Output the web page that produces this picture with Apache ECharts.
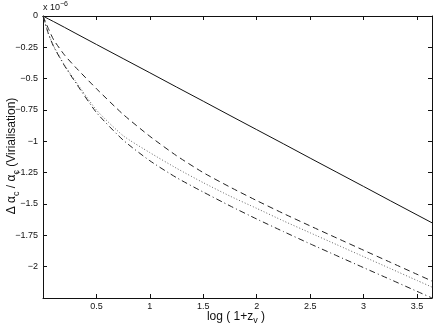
<!DOCTYPE html>
<html>
<head>
<meta charset="utf-8">
<script src="https://cdn.jsdelivr.net/npm/echarts@6/dist/echarts.min.js"></script>
<style>
  html, body { margin: 0; padding: 0; background: #fff; }
  #chart { width: 436px; height: 327px; }
</style>
</head>
<body>
<div id="chart"></div>
<script>
// log(1+z_v) sample points
var logZ = [0, 0.05, 0.1, 0.2, 0.3, 0.5, 0.75, 1, 1.25, 1.5, 1.75, 2, 2.25, 2.5, 2.75, 3, 3.25, 3.5, 3.64];

// delta alpha / alpha, units of 1e-6
var solidVals   = [0, -0.023, -0.045, -0.09, -0.136, -0.227, -0.34, -0.453, -0.567, -0.68, -0.794, -0.907, -1.02, -1.134, -1.247, -1.36, -1.474, -1.587, -1.65];
var dashedVals  = [0, -0.10, -0.19, -0.31, -0.405, -0.58, -0.785, -0.96, -1.115, -1.25, -1.365, -1.473, -1.576, -1.675, -1.772, -1.869, -1.965, -2.061, -2.115];
var dottedVals  = [0, -0.14, -0.24, -0.39, -0.515, -0.75, -0.955, -1.09, -1.215, -1.33, -1.437, -1.535, -1.635, -1.73, -1.825, -1.92, -2.015, -2.11, -2.163];
var dashDotVals = [0, -0.14, -0.245, -0.395, -0.525, -0.77, -0.99, -1.155, -1.29, -1.405, -1.515, -1.62, -1.72, -1.818, -1.913, -2.008, -2.102, -2.197, -2.25];

var xTicks = [0.5, 1, 1.5, 2, 2.5, 3, 3.5];
var yTicks = [0, -0.25, -0.5, -0.75, -1, -1.25, -1.5, -1.75, -2];

function pairs(vals) {
  return logZ.map(function (x, i) { return [x, vals[i]]; });
}

function fmt(v) {
  return String(v).replace("-", "\u2212");
}

var font = "Liberation Sans";
var black = "#111";

function tick() {
  return { show: true, inside: true, length: 4, lineStyle: { color: black, width: 1 } };
}
function line() {
  return { show: true, onZero: false, lineStyle: { color: black, width: 1 } };
}

var myChart = echarts.init(document.getElementById("chart"), null, { renderer: "canvas" });

var option = {
  animation: false,
  backgroundColor: "#fff",
  grid: { left: 43, top: 16, right: 4, bottom: 29 },
  xAxis: [
    {
      type: "value",
      position: "bottom",
      min: 0,
      max: 3.64,
      interval: 0.5,
      axisLine: line(),
      axisTick: tick(),
      splitLine: { show: false },
      axisLabel: {
        color: black,
        fontFamily: font,
        fontSize: 9,
        margin: 4,
        formatter: function (v) {
          return xTicks.indexOf(v) >= 0 ? fmt(v) : "";
        }
      }
    },
    {
      type: "value",
      position: "top",
      min: 0,
      max: 3.64,
      interval: 0.5,
      axisLine: line(),
      axisTick: tick(),
      splitLine: { show: false },
      axisLabel: { show: false }
    }
  ],
  yAxis: [
    {
      type: "value",
      position: "left",
      min: -2.25,
      max: 0,
      interval: 0.25,
      axisLine: line(),
      axisTick: tick(),
      splitLine: { show: false },
      axisLabel: {
        color: black,
        fontFamily: font,
        fontSize: 9,
        margin: 5,
        formatter: function (v) {
          return yTicks.indexOf(v) >= 0 ? fmt(v) : "";
        }
      }
    },
    {
      type: "value",
      position: "right",
      min: -2.25,
      max: 0,
      interval: 0.25,
      axisLine: line(),
      axisTick: tick(),
      splitLine: { show: false },
      axisLabel: { show: false }
    }
  ],
  graphic: [
    {
      type: "text",
      left: 43,
      top: 1,
      style: {
        text: "x 10{sup|\u22126}",
        fontFamily: font,
        fontSize: 9,
        fill: black,
        rich: { sup: { fontSize: 7, fontFamily: font, fill: black, padding: [0, 0, 6, 0] } }
      }
    },
    {
      type: "text",
      x: 236,
      y: 317,
      style: {
        text: "log ( 1+z{sub|v} )",
        fontFamily: font,
        fontSize: 12,
        fill: black,
        align: "center",
        verticalAlign: "middle",
        rich: { sub: { fontSize: 9, fontFamily: font, fill: black, padding: [8, 0, 0, 0] } }
      }
    },
    {
      type: "text",
      x: 12,
      y: 156,
      rotation: Math.PI / 2,
      style: {
        text: "\u0394 \u03b1{sub|c} / \u03b1{sub|c} (Virialisation)",
        fontFamily: font,
        fontSize: 12,
        fill: black,
        align: "center",
        verticalAlign: "middle",
        rich: { sub: { fontSize: 9, fontFamily: font, fill: black, padding: [9, 0, 0, 0] } }
      }
    }
  ],
  series: [
    {
      name: "solid",
      type: "line",
      data: pairs(solidVals),
      showSymbol: false,
      lineStyle: { color: black, width: 1, type: "solid" }
    },
    {
      name: "dashed",
      type: "line",
      data: pairs(dashedVals),
      showSymbol: false,
      smooth: 0.2,
      lineStyle: { color: "#222", width: 1, type: [6, 4] }
    },
    {
      name: "dotted",
      type: "line",
      data: pairs(dottedVals),
      showSymbol: false,
      smooth: 0.2,
      lineStyle: { color: "#666", width: 1, type: [1, 2] }
    },
    {
      name: "dashdot",
      type: "line",
      data: pairs(dashDotVals),
      showSymbol: false,
      smooth: 0.2,
      lineStyle: { color: "#222", width: 1, type: [6, 3, 1, 3] }
    }
  ]
};

myChart.setOption(option);
</script>
</body>
</html>
